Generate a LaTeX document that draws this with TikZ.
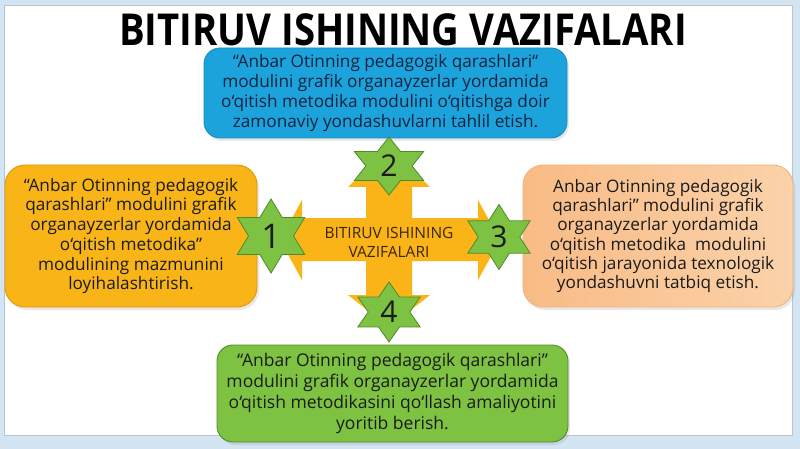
\documentclass[tikz,border=0pt]{standalone}
\usepackage{fontspec}
\setmainfont{Open Sans}
\usetikzlibrary{shadows,calc}
\definecolor{bgblue}{HTML}{D3E4F3}
\definecolor{panelline}{HTML}{B8C4CF}
\definecolor{boxblue}{HTML}{1DA3DC}
\definecolor{boxblueline}{HTML}{168CC2}
\definecolor{boxorange}{HTML}{F9B418}
\definecolor{boxorangeline}{HTML}{DC9A0C}
\definecolor{peachA}{HTML}{F8BB85}
\definecolor{peachB}{HTML}{FBD2AA}
\definecolor{peachline}{HTML}{F1B47F}
\definecolor{boxgreen}{HTML}{7EC242}
\definecolor{boxgreenline}{HTML}{4F8C2B}
\definecolor{crossorange}{HTML}{FAB417}
\definecolor{stargreen}{HTML}{7DC242}
\definecolor{starline}{HTML}{4E8A2C}
\definecolor{txtdark}{HTML}{1B1B1B}
\definecolor{txtnavy}{HTML}{14233F}
\definecolor{txtbrown}{HTML}{3A2708}
\newcommand{\hexstar}[5]{% x y rx ry name
  \fill[stargreen,draw=starline,line width=0.8pt]
    ($(#1,#2)+(90:#3 and #4)$)
    -- ($(#1,#2)+(120:0.577*#3 and 0.577*#4)$)
    -- ($(#1,#2)+(150:#3 and #4)$)
    -- ($(#1,#2)+(180:0.577*#3 and 0.577*#4)$)
    -- ($(#1,#2)+(210:#3 and #4)$)
    -- ($(#1,#2)+(240:0.577*#3 and 0.577*#4)$)
    -- ($(#1,#2)+(270:#3 and #4)$)
    -- ($(#1,#2)+(300:0.577*#3 and 0.577*#4)$)
    -- ($(#1,#2)+(330:#3 and #4)$)
    -- ($(#1,#2)+(0:0.577*#3 and 0.577*#4)$)
    -- ($(#1,#2)+(30:#3 and #4)$)
    -- ($(#1,#2)+(60:0.577*#3 and 0.577*#4)$)
    -- cycle;
  \coordinate (#5) at (#1,#2);
}
\begin{document}
\begin{tikzpicture}[x=1pt,y=-1pt,
  box/.style={rounded corners=16pt,align=center,inner sep=0pt,line width=0.9pt,
    drop shadow={opacity=0.18,shadow xshift=2pt,shadow yshift=-3pt}},
  boxtext/.style={font=\fontsize{17.2}{20.2}\selectfont},
  num/.style={font=\fontsize{30}{30}\selectfont,text=txtdark,inner sep=0pt}]
\useasboundingbox (0,0) rectangle (800,449);
% background
\fill[bgblue] (0,0) rectangle (800,449);
\fill[white,draw=panelline,line width=0.8pt] (4,5) rectangle (792,435);
% title
\node[inner sep=0pt,text=black] (title) at (403,29.5)
  {\fontsize{44}{44}\selectfont\bfseries\scalebox{0.87}[1]{BITIRUV ISHINING VAZIFALARI}};
% boxes
\node[box,fill=boxblue,draw=boxblueline,minimum width=363pt,minimum height=90pt,
  text=txtnavy,boxtext] (top) at (385.5,93)
  {“Anbar Otinning pedagogik qarashlari“\\modulini grafik organayzerlar yordamida\\o‘qitish metodika modulini o‘qitishga doir\\zamonaviy yondashuvlarni tahlil etish.};
\node[box,fill=boxorange,draw=boxorangeline,minimum width=252pt,minimum height=142pt,
  text=txtdark,font=\fontsize{17.2}{19.7}\selectfont,rounded corners=20pt] (left) at (131,236)
  {“Anbar Otinning pedagogik\\qarashlari” modulini grafik\\organayzerlar yordamida\\o‘qitish metodika”\\modulining mazmunini\\loyihalashtirish.};
\node[box,left color=peachA,right color=peachB,draw=peachline,minimum width=270pt,minimum height=142pt,
  text=txtdark,font=\fontsize{17.2}{19.2}\selectfont,rounded corners=20pt] (right) at (658,236)
  {Anbar Otinning pedagogik\\qarashlari” modulini grafik\\organayzerlar yordamida\\o‘qitish metodika\ \ modulini\\o‘qitish jarayonida texnologik\\yondashuvni tatbiq etish.};
\node[box,fill=boxgreen,draw=boxgreenline,minimum width=351pt,minimum height=97pt,
  text=txtdark,font=\fontsize{17.5}{20.8}\selectfont] (bottom) at (392.5,393.5)
  {“Anbar Otinning pedagogik qarashlari”\\modulini grafik organayzerlar yordamida\\o‘qitish metodikasini qo‘llash amaliyotini\\yoritib berish.};
% cross arrows
\fill[crossorange]
  (389,148) -- (430,187) -- (412,187) -- (412,218) -- (478,218) -- (478,200)
  -- (500,240) -- (478,280) -- (478,261) -- (412,261) -- (412,295) -- (430,295)
  -- (389,327) -- (348,295) -- (366,295) -- (366,261) -- (302,261) -- (302,280)
  -- (280,240) -- (302,200) -- (302,218) -- (366,218) -- (366,187) -- (348,187) -- cycle;
\node[align=center,text=txtbrown,font=\fontsize{15.5}{19}\selectfont,inner sep=0pt] (center) at (389,242)
  {BITIRUV ISHINING\\VAZIFALARI};
% stars
\hexstar{271}{236}{39}{37}{s1}
\hexstar{389}{166}{40}{29}{s2}
\hexstar{499}{237}{36}{32.5}{s3}
\hexstar{389}{312}{36}{30}{s4}
\node[num,font=\fontsize{34}{34}\selectfont] (n1) at (s1) {1};
\node[num] (n2) at (s2) {2};
\node[num] (n3) at (s3) {3};
\node[num] (n4) at (s4) {4};
\end{tikzpicture}
\end{document}
